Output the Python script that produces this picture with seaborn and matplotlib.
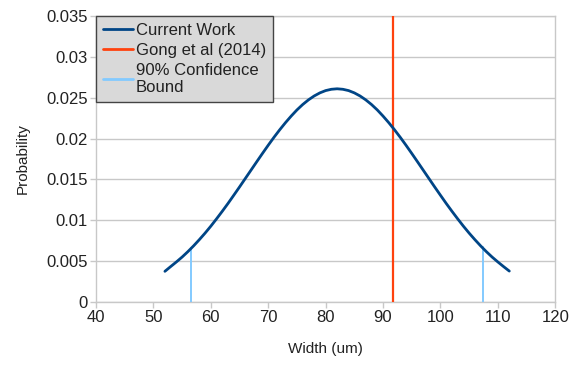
import matplotlib
matplotlib.use("Agg")
import matplotlib.pyplot as plt
import seaborn as sns
import pandas as pd

# Data
width_um = list(range(52, 113))
probability = [0.00375, 0.00433, 0.00490, 0.00550, 0.00616, 0.00687, 0.00763,
               0.00843, 0.00928, 0.01018, 0.01111, 0.01207, 0.01307, 0.01408,
               0.01511, 0.01614, 0.01717, 0.01819, 0.01919, 0.02016, 0.02108,
               0.02195, 0.02276, 0.02351, 0.02417, 0.02474, 0.02522, 0.02560,
               0.02588, 0.02604, 0.02610,
               0.02604, 0.02588, 0.02560, 0.02522, 0.02474, 0.02417, 0.02351,
               0.02276, 0.02195, 0.02108, 0.02016, 0.01919, 0.01819, 0.01717,
               0.01614, 0.01511, 0.01408, 0.01307, 0.01207, 0.01111, 0.01018,
               0.00928, 0.00843, 0.00763, 0.00687, 0.00616, 0.00550, 0.00490,
               0.00433, 0.00378]
gong_x = 91.8
gong_range = [0.0, 0.035]
conf_x = [56.5, 107.4]
conf_top = [0.0066, 0.0067]

sns.set_theme(style="white")
plt.rcParams['font.family'] = ['Liberation Sans', 'DejaVu Sans']

c_cur = "#004586"
c_gong = "#ff420e"
c_conf = "#83caff"
grid_c = "#c8c8c8"

fig = plt.figure(figsize=(5.82, 3.66), dpi=100)
ax = fig.add_axes([0.165, 0.175, 0.789, 0.781])

df = pd.DataFrame({"Width (um)": width_um, "Probability": probability})
sns.lineplot(data=df, x="Width (um)", y="Probability", ax=ax, color=c_cur,
             linewidth=2.0, label="Current Work", zorder=4)
ax.plot([gong_x, gong_x], gong_range, color=c_gong, linewidth=1.6,
        label="Gong et al (2014)", zorder=3)
for i, (cx, ct) in enumerate(zip(conf_x, conf_top)):
    ax.plot([cx, cx], [0, ct], color=c_conf, linewidth=1.4,
            label="90% Confidence\nBound" if i == 0 else None, zorder=3)

ax.set_xlim(40, 120)
ax.set_ylim(0, 0.035)
ax.set_xticks(range(40, 121, 10))
ax.set_yticks([0, 0.005, 0.01, 0.015, 0.02, 0.025, 0.03, 0.035])
ax.set_yticklabels(["0", "0.005", "0.01", "0.015", "0.02", "0.025", "0.03", "0.035"])
ax.grid(axis="y", color=grid_c, linewidth=1.0)
ax.set_axisbelow(True)
for s in ax.spines.values():
    s.set_color(grid_c)
    s.set_linewidth(1.0)
ax.tick_params(axis="both", which="both", length=4, width=1.0, color=grid_c,
               labelsize=12, labelcolor="#222222", pad=2, direction="out",
               bottom=True, left=True)
ax.set_xlabel("Width (um)", fontsize=11, color="#222222", labelpad=12)
ax.set_ylabel("Probability", fontsize=11, color="#222222", labelpad=12)

leg = ax.legend(loc="upper left", bbox_to_anchor=(0.0, 1.0), fontsize=12,
                frameon=True, fancybox=False, borderpad=0.4, labelspacing=0.3,
                handlelength=1.8, handletextpad=0.2, borderaxespad=0.0)
leg.get_frame().set_facecolor("#d9d9d9")
leg.get_frame().set_edgecolor("#444444")
leg.get_frame().set_linewidth(1.0)
leg.get_frame().set_alpha(1.0)
for t in leg.get_texts():
    t.set_color("#222222")
for h in leg.get_lines():
    h.set_linewidth(2.0)

fig.savefig("out.png", dpi=100)
